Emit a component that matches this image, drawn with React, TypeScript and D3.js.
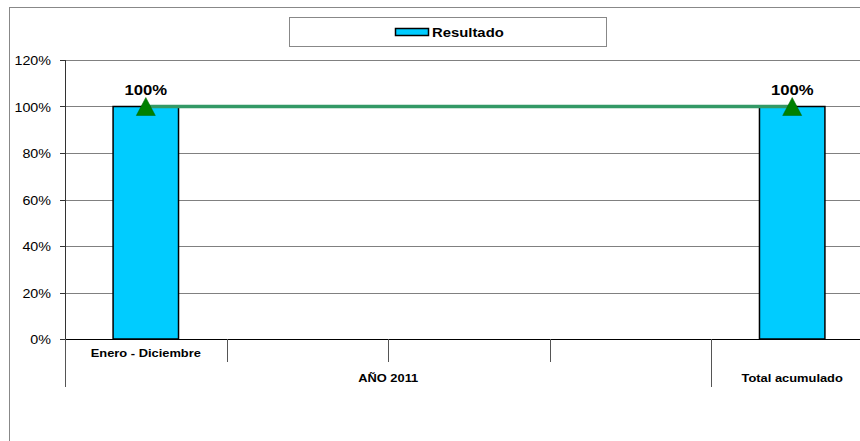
import React from "react";
import * as d3 from "d3";

const categories = ["Enero - Diciembre", "", "", "", ""];
const groups = [
  { label: "AÑO 2011", start: 0, end: 3 },
  { label: "Total acumulado", start: 4, end: 4 },
];
const resultado: (number | null)[] = [1, null, null, null, 1];
const meta: (number | null)[] = [1, null, null, null, 1];
const yTicks = [0, 0.2, 0.4, 0.6, 0.8, 1.0, 1.2];
const legendLabel = "Resultado";

const W = 860;
const H = 441;
const plotLeft = 65;
const plotRight = 873;
const plotTop = 60;
const plotBottom = 339;

const FONT = "'Liberation Sans', Arial, sans-serif";

function SText(props: {
  x: number;
  y: number;
  sx?: number;
  anchor?: string;
  size: number;
  bold?: boolean;
  children: React.ReactNode;
}) {
  const { x, y, sx = 1.12, anchor = "middle", size, bold, children } = props;
  return (
    <text
      transform={`translate(${x},${y}) scale(${sx},1)`}
      textAnchor={anchor}
      fontFamily={FONT}
      fontSize={size}
      fontWeight={bold ? "bold" : "normal"}
      fill="#000"
    >
      {children}
    </text>
  );
}

export default function App() {
  const x = d3
    .scaleBand<number>()
    .domain(categories.map((_, i) => i))
    .range([plotLeft, plotRight])
    .paddingInner(0)
    .paddingOuter(0);
  const y = d3.scaleLinear().domain([0, 1.2]).range([plotBottom, plotTop]);
  const bw = x.bandwidth();
  const barW = bw * 0.405;
  const fmt = d3.format(".0%");

  const linePts = meta
    .map((v, i) => (v == null ? null : ([x(i)! + bw / 2, y(v)] as [number, number])))
    .filter((p): p is [number, number] => p !== null);
  const lineGen = d3.line();

  const tri = (cx: number, cy: number) =>
    `M${cx},${cy - 9} L${cx + 9.5},${cy + 9} L${cx - 9.5},${cy + 9} Z`;

  return (
    <svg
      width={W}
      height={H}
      style={{ position: "absolute", left: 0, top: 0, background: "#fff" }}
    >
      {/* outer chart border */}
      <rect x={9.5} y={7.5} width={W + 20} height={H + 20} fill="#fff" stroke="#888" strokeWidth={1} />

      {/* gridlines */}
      {yTicks.map((t) => (
        <line
          key={t}
          x1={plotLeft}
          x2={plotRight}
          y1={Math.round(y(t)) + 0.5}
          y2={Math.round(y(t)) + 0.5}
          stroke="#808080"
          strokeWidth={1}
        />
      ))}

      {/* y axis */}
      <line x1={plotLeft + 0.5} x2={plotLeft + 0.5} y1={plotTop} y2={plotBottom} stroke="#333" strokeWidth={1} />
      {yTicks.map((t) => (
        <g key={"t" + t}>
          <line
            x1={plotLeft - 5}
            x2={plotLeft}
            y1={Math.round(y(t)) + 0.5}
            y2={Math.round(y(t)) + 0.5}
            stroke="#333"
          />
          <SText x={51} y={y(t) + 5} anchor="end" size={13} sx={1.1}>
            {fmt(t)}
          </SText>
        </g>
      ))}

      {/* bars */}
      {resultado.map((v, i) =>
        v == null ? null : (
          <rect
            key={"b" + i}
            x={x(i)! + bw / 2 - barW / 2}
            y={y(v)}
            width={barW}
            height={y(0) - y(v)}
            fill="#00CCFF"
            stroke="#000"
            strokeWidth={1.5}
          />
        )
      )}

      {/* x axis */}
      <line x1={plotLeft} x2={plotRight} y1={plotBottom + 0.5} y2={plotBottom + 0.5} stroke="#000" strokeWidth={1} />
      {categories.map((_, i) => {
        const xx = Math.round(x(i)!) + 0.5;
        const isGroupStart = groups.some((g) => g.start === i);
        return (
          <line
            key={"sep" + i}
            x1={xx}
            x2={xx}
            y1={plotBottom}
            y2={isGroupStart ? 387 : 362}
            stroke="#555"
            strokeWidth={1}
          />
        );
      })}
      {categories.map((c, i) =>
        c ? (
          <SText key={"c" + i} x={x(i)! + bw / 2} y={357} size={11} bold sx={1.17}>
            {c}
          </SText>
        ) : null
      )}
      {groups.map((g) => (
        <SText
          key={g.label}
          x={(x(g.start)! + x(g.end)! + bw) / 2}
          y={382}
          size={11}
          bold
          sx={1.17}
        >
          {g.label}
        </SText>
      ))}

      {/* line series */}
      <path d={lineGen(linePts) || ""} fill="none" stroke="#339966" strokeWidth={3.5} />
      {linePts.map((p, i) => (
        <path key={"m" + i} d={tri(p[0], p[1])} fill="#008000" stroke="#006400" strokeWidth={0.5} />
      ))}

      {/* data labels */}
      {resultado.map((v, i) =>
        v == null ? null : (
          <SText key={"l" + i} x={x(i)! + bw / 2} y={y(v) - 12} size={14.5} bold sx={1.15}>
            {fmt(v)}
          </SText>
        )
      )}

      {/* legend */}
      <rect x={289.5} y={17.5} width={317} height={29} fill="#fff" stroke="#888" strokeWidth={1} />
      <rect x={395.5} y={28.5} width={33} height={7} fill="#00CCFF" stroke="#000" strokeWidth={1.5} />
      <SText x={432} y={37} anchor="start" size={13.5} bold sx={1.1}>
        {legendLabel}
      </SText>
    </svg>
  );
}
